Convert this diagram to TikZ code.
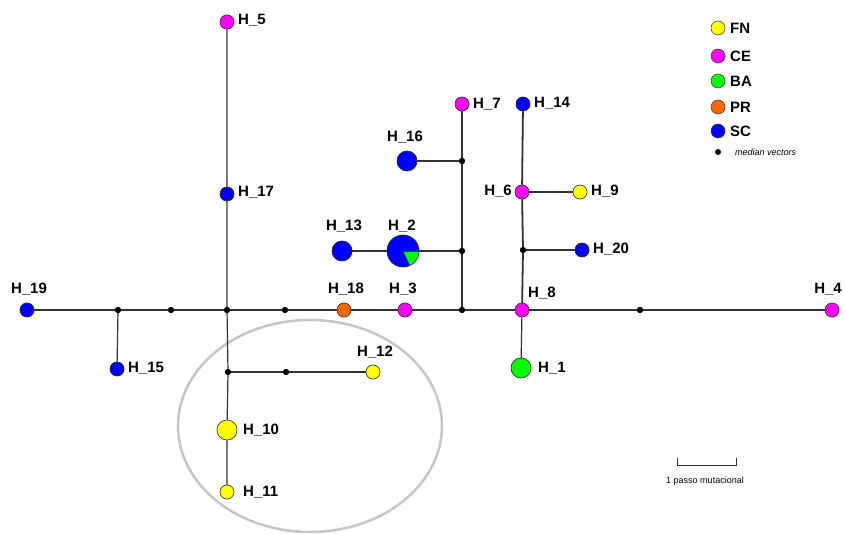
\documentclass[tikz,border=0pt]{standalone}
\usepackage{fontspec}
\setmainfont{Liberation Sans}
\definecolor{cFN}{RGB}{255,255,0}
\definecolor{cCE}{RGB}{255,0,255}
\definecolor{cBA}{RGB}{0,255,0}
\definecolor{cPR}{RGB}{255,102,0}
\definecolor{cSC}{RGB}{0,0,255}
\definecolor{edge}{RGB}{50,50,50}
\tikzset{
  hap/.style={circle, draw=edge, line width=0.5pt, inner sep=0pt, minimum size=14pt},
  big/.style={minimum size=20pt},
  fn/.style={hap, fill=cFN}, ce/.style={hap, fill=cCE}, ba/.style={hap, fill=cBA},
  pr/.style={hap, fill=cPR}, sc/.style={hap, fill=cSC},
  mv/.style={circle, fill=black, inner sep=0pt, minimum size=6pt},
  lbl/.style={font=\fontsize{15}{15}\selectfont\bfseries, inner sep=1pt},
  link/.style={draw=edge, line width=1.2pt},
}
\begin{document}
\begin{tikzpicture}[x=1pt, y=-1pt]
\useasboundingbox (0,0) rectangle (845,534);
% highlighted group
\draw[gray!45, line width=2.5pt] (310,426) ellipse [x radius=132, y radius=106];

% median vectors
\node[mv] (m1) at (118,310) {};
\node[mv] (m2) at (171,310) {};
\node[mv] (m3) at (227,310) {};
\node[mv] (m4) at (285,310) {};
\node[mv] (m5) at (462,310) {};
\node[mv] (m6) at (640,310) {};
\node[mv] (m7) at (462,161) {};
\node[mv] (m8) at (462,251) {};
\node[mv] (m9) at (523,250) {};
\node[mv] (m10) at (228,372) {};
\node[mv] (m11) at (286,372) {};

% haplotypes
\node[ce] (h5) at (227,22) {};
\node[sc] (h17) at (227,194) {};
\node[sc] (h19) at (27,310) {};
\node[sc] (h15) at (117,369) {};
\node[pr] (h18) at (344,310) {};
\node[ce] (h3) at (405,310) {};
\node[ce] (h8) at (522,310) {};
\node[ce] (h4) at (832,310) {};
\node[ce] (h7) at (462,104) {};
\node[sc, big] (h16) at (407,161) {};
\node[hap, minimum size=32pt] (h2) at (403,251) {};
\node[sc, big] (h13) at (342,251) {};
\node[sc] (h14) at (523,104) {};
\node[ce] (h6) at (522,192) {};
\node[fn] (h9) at (580,192) {};
\node[sc] (h20) at (582,250) {};
\node[ba, big] (h1) at (521,368) {};
\node[fn] (h12) at (373,372) {};
\node[fn, big] (h10) at (227,430) {};
\node[fn] (h11) at (227,492) {};

% connectors
\draw[link] (h19) -- (m1) -- (m2) -- (m3) -- (m4) -- (h18) -- (h3) -- (m5) -- (h8) -- (m6) -- (h4);
\draw[link] (m1) -- (h15);
\draw[link] (h5) -- (h17) -- (m3) -- (m10) -- (h10) -- (h11);
\draw[link] (m10) -- (m11) -- (h12);
\draw[link] (h7) -- (m7) -- (m8) -- (m5);
\draw[link] (m7) -- (h16);
\draw[link] (h13) -- (h2) -- (m8);
\draw[link, line width=1.8pt] (h14) -- (h6) -- (m9) -- (h8);
\draw[link] (h6) -- (h9);
\draw[link] (m9) -- (h20);
\draw[link] (h8) -- (h1);

% haplotype discs drawn over the lines
\foreach \n/\s in {h5/cCE,h17/cSC,h19/cSC,h15/cSC,h18/cPR,h3/cCE,h8/cCE,h4/cCE,h7/cCE,h14/cSC,h6/cCE,h9/cFN,h20/cSC,h12/cFN,h11/cFN}
  \draw[draw=edge, line width=0.5pt, fill=\s] (\n.center) circle (7pt);
\foreach \n/\s in {h16/cSC,h13/cSC,h1/cBA,h10/cFN}
  \draw[draw=edge, line width=0.5pt, fill=\s] (\n.center) circle (10pt);
\foreach \n in {m1,m2,m3,m4,m5,m6,m7,m8,m9,m10,m11}
  \fill (\n.center) circle (3pt);

% H_2 pie: SC with a BA share
\fill[cSC] (h2.center) circle (16pt);
\fill[cBA] (h2.center) -- ++(0:16pt) arc[start angle=0, end angle=-65, radius=16pt] -- cycle;
\draw[edge, line width=0.5pt] (h2.center) -- ++(0:16pt);
\draw[edge, line width=0.5pt] (h2.center) -- ++(-65:16pt);
\draw[edge, line width=0.5pt] (h2.center) circle (16pt);

% labels
\node[lbl, anchor=west] at (237,20) {H\_5};
\node[lbl, anchor=west] at (237,192) {H\_17};
\node[lbl] at (29,289) {H\_19};
\node[lbl, anchor=west] at (127,368) {H\_15};
\node[lbl] at (346,289) {H\_18};
\node[lbl] at (403,289) {H\_3};
\node[lbl, anchor=west] at (527,293) {H\_8};
\node[lbl] at (828,289) {H\_4};
\node[lbl, anchor=west] at (472,104) {H\_7};
\node[lbl] at (405,137) {H\_16};
\node[lbl] at (402,226) {H\_2};
\node[lbl] at (344,226) {H\_13};
\node[lbl, anchor=west] at (533,103) {H\_14};
\node[lbl, anchor=east] at (513,191) {H\_6};
\node[lbl, anchor=west] at (590,191) {H\_9};
\node[lbl, anchor=west] at (592,249) {H\_20};
\node[lbl, anchor=west] at (537,368) {H\_1};
\node[lbl] at (375,352) {H\_12};
\node[lbl, anchor=west] at (242,430) {H\_10};
\node[lbl, anchor=west] at (242,492) {H\_11};

% legend
\foreach \y/\c/\t in {28/cFN/FN, 56/cCE/CE, 81/cBA/BA, 107/cPR/PR, 131/cSC/SC}{
  \draw[draw=edge, line width=0.5pt, fill=\c] (718,\y) circle (7pt);
  \node[lbl, anchor=west] at (729,\y) {\t};
}
\fill (718,152) circle (3pt);
\node[anchor=west, font=\fontsize{9}{9}\selectfont\itshape, inner sep=1pt] at (734,152) {median vectors};

% scale bar
\coordinate (sb1) at (677,458);
\coordinate (sb2) at (736,458);
\draw[edge, line width=1pt] (sb1) -- ++(0,7) -| (sb2);
\node[font=\fontsize{9}{9}\selectfont, inner sep=1pt] at (705,481) {1 passo mutacional};
\end{tikzpicture}
\end{document}
